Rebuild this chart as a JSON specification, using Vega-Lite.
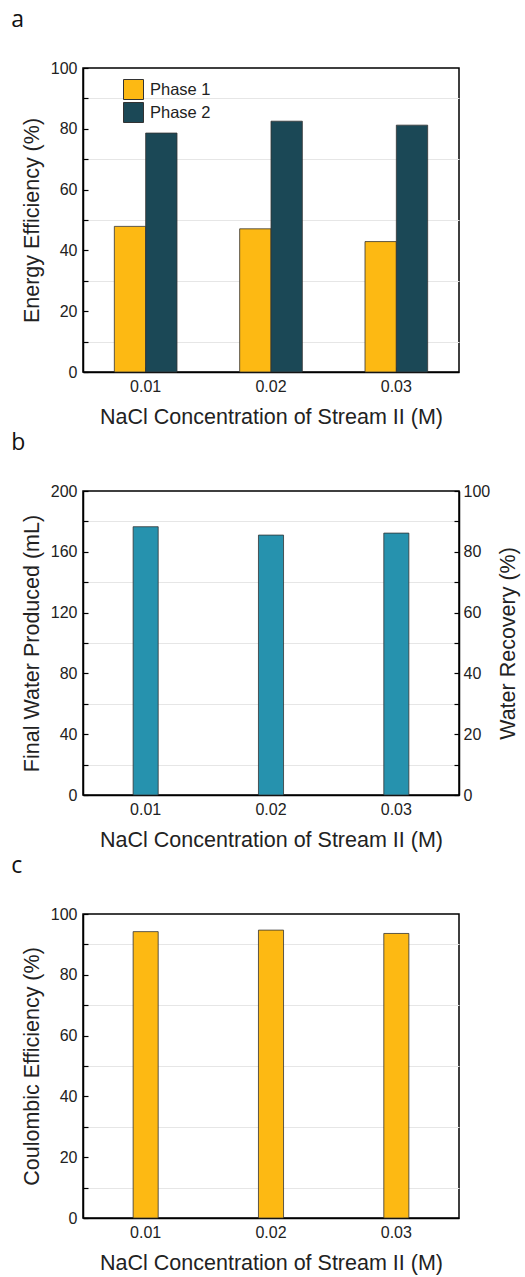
{
  "$schema": "https://vega.github.io/schema/vega-lite/v6.json",
  "background": "white",
  "padding": {"left": 10, "top": 8, "right": 2, "bottom": 2},
  "spacing": 2,
  "datasets": {
    "energy": [
      {"conc": "0.01", "phase": "Phase 1", "efficiency": 47.9},
      {"conc": "0.01", "phase": "Phase 2", "efficiency": 78.6},
      {"conc": "0.02", "phase": "Phase 1", "efficiency": 47.1},
      {"conc": "0.02", "phase": "Phase 2", "efficiency": 82.5},
      {"conc": "0.03", "phase": "Phase 1", "efficiency": 42.9},
      {"conc": "0.03", "phase": "Phase 2", "efficiency": 81.2}
    ],
    "water": [
      {"conc": "0.01", "volume": 176.5, "recovery": 88.25},
      {"conc": "0.02", "volume": 171.0, "recovery": 85.5},
      {"conc": "0.03", "volume": 172.3, "recovery": 86.15}
    ],
    "coulombic": [
      {"conc": "0.01", "efficiency": 94.2},
      {"conc": "0.02", "efficiency": 94.7},
      {"conc": "0.03", "efficiency": 93.6}
    ]
  },
  "config": {
    "font": "Liberation Sans",
    "view": {"stroke": "black", "strokeWidth": 1.5},
    "axis": {
      "labelFont": "Liberation Sans",
      "labelFontSize": 16,
      "labelColor": "#222",
      "titleFont": "Liberation Sans",
      "titleFontSize": 21.5,
      "titleFontWeight": "normal",
      "titleColor": "#222",
      "domainColor": "black",
      "domainWidth": 1.5,
      "tickColor": "black",
      "tickWidth": 1.2,
      "tickSize": -5,
      "gridColor": "#e6e6e6",
      "gridWidth": 1,
      "zindex": 1
    },
    "axisX": {"labelAngle": 0, "labelPadding": 11, "titlePadding": 12},
    "axisY": {"labelPadding": 11, "titlePadding": 7},
    "title": {
      "font": "Open Sans",
      "fontSize": 23,
      "fontWeight": "normal",
      "color": "#111",
      "anchor": "start",
      "frame": "bounds",
      "baseline": "alphabetic",
      "offset": 28,
      "dx": -10
    }
  },
  "vconcat": [
    {
      "title": "a",
      "width": 376,
      "height": 304,
      "data": {"name": "energy"},
      "mark": {"type": "bar", "stroke": "#333", "strokeWidth": 0.8},
      "encoding": {
        "x": {
          "field": "conc",
          "type": "ordinal",
          "scale": {"paddingInner": 0, "paddingOuter": 0},
          "axis": {"title": "NaCl Concentration of Stream II (M)"}
        },
        "xOffset": {
          "field": "phase",
          "type": "nominal",
          "scale": {"paddingInner": 0, "paddingOuter": 1.514}
        },
        "y": {
          "field": "efficiency",
          "type": "quantitative",
          "scale": {"domain": [0, 100], "nice": false},
          "axis": {
            "title": "Energy Efficiency (%)",
            "values": [0, 10, 20, 30, 40, 50, 60, 70, 80, 90, 100],
            "labelExpr": "datum.value % 20 === 0 ? datum.label : ''",
            "grid": true,
            "gridOpacity": {"condition": {"test": "datum.value % 20 === 10", "value": 1}, "value": 0}
          }
        },
        "color": {
          "field": "phase",
          "type": "nominal",
          "scale": {"domain": ["Phase 1", "Phase 2"], "range": ["#FDB913", "#1B4856"]},
          "legend": {
            "title": null,
            "orient": "none",
            "legendX": 40,
            "legendY": 11,
            "symbolType": "square",
            "symbolSize": 400,
            "symbolStrokeColor": "#333",
            "symbolStrokeWidth": 1,
            "symbolOpacity": 1,
            "labelFont": "Liberation Sans",
            "labelFontSize": 16.5,
            "labelColor": "#222",
            "labelOffset": 6,
            "rowPadding": -7
          }
        }
      }
    },
    {
      "title": "b",
      "width": 376,
      "height": 304,
      "data": {"name": "water"},
      "layer": [
        {
          "mark": {"type": "bar", "color": "#2692AE", "stroke": "#333", "strokeWidth": 0.8, "width": {"band": 0.2}},
          "encoding": {
            "x": {
              "field": "conc",
              "type": "ordinal",
              "scale": {"paddingInner": 0, "paddingOuter": 0},
              "axis": {"title": "NaCl Concentration of Stream II (M)"}
            },
            "y": {
              "field": "volume",
              "type": "quantitative",
              "scale": {"domain": [0, 200], "nice": false},
              "axis": {
                "title": "Final Water Produced (mL)",
                "values": [0, 20, 40, 60, 80, 100, 120, 140, 160, 180, 200],
                "labelExpr": "datum.value % 40 === 0 ? datum.label : ''",
                "grid": true,
                "gridOpacity": {"condition": {"test": "datum.value % 40 === 20", "value": 1}, "value": 0}
              }
            }
          }
        },
        {
          "mark": {"type": "bar", "opacity": 0, "width": {"band": 0.2}},
          "encoding": {
            "x": {"field": "conc", "type": "ordinal"},
            "y": {
              "field": "recovery",
              "type": "quantitative",
              "scale": {"domain": [0, 100], "nice": false},
              "axis": {
                "orient": "right",
                "title": "Water Recovery (%)",
                "titleAngle": 270,
                "titleBaseline": "top",
                "titlePadding": 8,
                "labelPadding": 9,
                "grid": false,
                "values": [0, 10, 20, 30, 40, 50, 60, 70, 80, 90, 100],
                "labelExpr": "datum.value % 20 === 0 ? datum.label : ''"
              }
            }
          }
        }
      ],
      "resolve": {"scale": {"y": "independent"}}
    },
    {
      "title": "c",
      "width": 376,
      "height": 304,
      "data": {"name": "coulombic"},
      "mark": {"type": "bar", "color": "#FDB913", "stroke": "#333", "strokeWidth": 0.8, "width": {"band": 0.2}},
      "encoding": {
        "x": {
          "field": "conc",
          "type": "ordinal",
          "scale": {"paddingInner": 0, "paddingOuter": 0},
          "axis": {"title": "NaCl Concentration of Stream II (M)"}
        },
        "y": {
          "field": "efficiency",
          "type": "quantitative",
          "scale": {"domain": [0, 100], "nice": false},
          "axis": {
            "title": "Coulombic Efficiency (%)",
            "values": [0, 10, 20, 30, 40, 50, 60, 70, 80, 90, 100],
            "labelExpr": "datum.value % 20 === 0 ? datum.label : ''",
            "grid": true,
            "gridOpacity": {"condition": {"test": "datum.value % 20 === 10", "value": 1}, "value": 0}
          }
        }
      }
    }
  ]
}
